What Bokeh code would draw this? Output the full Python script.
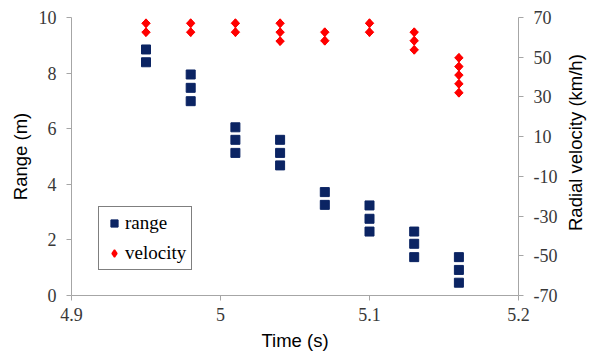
import math
from bokeh.plotting import figure
from bokeh.layouts import row
from bokeh.core.properties import value
from bokeh.models import Range1d, LinearAxis, FixedTicker, CustomJSTickFormatter, Legend, LegendItem
from bokeh.embed import file_html
from bokeh.resources import INLINE

range_t = [4.95, 4.95,
           4.98, 4.98, 4.98,
           5.01, 5.01, 5.01,
           5.04, 5.04, 5.04,
           5.07, 5.07,
           5.10, 5.10, 5.10,
           5.13, 5.13, 5.13,
           5.16, 5.16, 5.16]
range_m = [8.85, 8.39,
           7.95, 7.47, 6.99,
           6.05, 5.60, 5.13,
           5.60, 5.13, 4.68,
           3.72, 3.26,
           3.24, 2.76, 2.30,
           2.30, 1.86, 1.38,
           1.38, 0.92, 0.46]

vel_t = [4.95, 4.95,
         4.98, 4.98,
         5.01, 5.01,
         5.04, 5.04, 5.04,
         5.07, 5.07,
         5.10, 5.10,
         5.13, 5.13, 5.13,
         5.16, 5.16, 5.16, 5.16, 5.16]
vel_kmh = [67.1, 62.6,
           67.1, 62.6,
           67.1, 62.6,
           67.1, 62.6, 58.1,
           62.6, 58.3,
           67.1, 62.6,
           62.6, 58.3, 53.7,
           49.7, 45.3, 41.0, 36.6, 32.1]

x_ticks = [4.9, 5.0, 5.1, 5.2]
left_ticks = [0, 2, 4, 6, 8, 10]
right_ticks = [-70, -50, -30, -10, 10, 30, 50, 70]

AXIS_COLOR = "#a6a6a6"
TICK_FONT = "Liberation Serif"
LABEL_FONT = "Liberation Sans"
TICK_COLOR = "#383838"
RANGE_COLOR = "#0b2463"
VEL_COLOR = "#ff0000"

p = figure(width=560, height=356, output_backend="svg", toolbar_location=None,
           x_range=Range1d(4.9, 5.2), y_range=Range1d(0, 10),
           min_border_left=71, min_border_right=42, min_border_top=17, min_border_bottom=61)
p.frame_width = 447
p.frame_height = 278
p.outline_line_color = None
p.xgrid.visible = False
p.ygrid.visible = False
p.extra_y_ranges = {"vel": Range1d(-70, 70)}

fmt = CustomJSTickFormatter(code="return String(Number(tick.toFixed(3)));")


def style_axis(ax):
    ax.axis_line_color = AXIS_COLOR
    ax.major_tick_line_color = AXIS_COLOR
    ax.minor_tick_line_color = None
    ax.major_tick_out = 5
    ax.major_tick_in = 0
    ax.major_label_text_font = TICK_FONT
    ax.major_label_text_font_size = "18px"
    ax.major_label_text_color = TICK_COLOR
    ax.major_label_standoff = 10
    ax.axis_label_text_font = LABEL_FONT
    ax.axis_label_text_font_size = "18.5px"
    ax.axis_label_text_font_style = "normal"
    ax.axis_label_text_color = "#000000"


style_axis(p.xaxis[0])
style_axis(p.yaxis[0])

p.xaxis[0].ticker = FixedTicker(ticks=x_ticks)
p.xaxis[0].formatter = fmt
p.xaxis[0].axis_label = "Time (s)"
p.xaxis[0].major_label_standoff = 7
p.xaxis[0].axis_label_standoff = 6

p.yaxis[0].ticker = FixedTicker(ticks=left_ticks)
p.yaxis[0].formatter = fmt
p.yaxis[0].axis_label = "Range (m)"
p.yaxis[0].axis_label_standoff = 5

# right axis: ticks and line
ry = LinearAxis(y_range_name="vel", ticker=FixedTicker(ticks=right_ticks), formatter=fmt)
style_axis(ry)
p.add_layout(ry, "right")

# legend swatch for the velocity series (diamond), hidden beneath the plotted points
r2_key = p.scatter(vel_t, vel_kmh, marker="diamond", size=8,
                   fill_color=VEL_COLOR, line_color=VEL_COLOR, line_width=1.5,
                   y_range_name="vel")
r1 = p.scatter(range_t, range_m, marker="square", size=9,
               fill_color=RANGE_COLOR, line_color=RANGE_COLOR)
r2 = p.scatter(vel_t, vel_kmh, marker="square", size=6, angle=math.pi / 4,
               fill_color=VEL_COLOR, line_color=VEL_COLOR, y_range_name="vel")

legend = Legend(items=[LegendItem(label="range", renderers=[r1]),
                       LegendItem(label="velocity", renderers=[r2_key])],
                location=(27, 25))
legend.label_text_font = TICK_FONT
legend.label_text_font_size = "19px"
legend.label_text_color = "#000000"
legend.border_line_color = "#000000"
legend.border_line_width = 1
legend.glyph_width = 20
legend.glyph_height = 18
legend.label_standoff = 1
legend.padding = 5
legend.spacing = 8
legend.margin = 0
legend.label_height = 20
legend.label_text_baseline = "middle"
p.add_layout(legend, "center")

# narrow strip to the right carrying the right-hand axis title (reads bottom-to-top),
# on the same velocity scale as the right axis
p2 = figure(width=29, height=356, output_backend="svg", toolbar_location=None,
            x_range=Range1d(0, 1), y_range=Range1d(-70, 70),
            x_axis_location=None, y_axis_location=None,
            min_border_left=0, min_border_right=0, min_border_top=17, min_border_bottom=61)
p2.outline_line_color = None
p2.xgrid.visible = False
p2.ygrid.visible = False
p2.text(x=[0.5], y=[7], text=["Radial velocity (km/h)"], angle=math.pi / 2,
        text_align="center", text_baseline="middle",
        text_font=value(LABEL_FONT), text_font_size=value("18.5px"),
        text_color="#000000")

layout = row(p, p2, spacing=0)

open("out.html", "w").write(file_html(layout, INLINE))
